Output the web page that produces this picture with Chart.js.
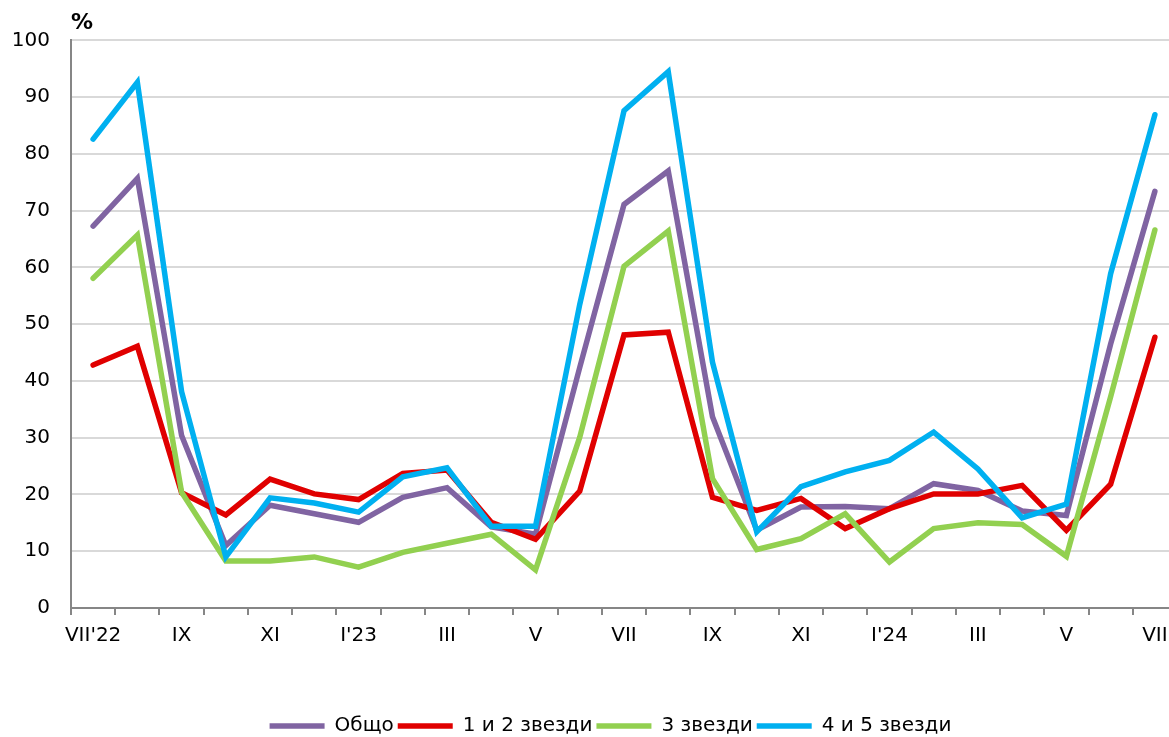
<!DOCTYPE html>
<html>
<head>
<meta charset="utf-8">
<script src="https://cdn.jsdelivr.net/npm/chart.js@4.4.1/dist/chart.umd.min.js"></script>
<style>
  html, body { margin: 0; padding: 0; background: #fff; overflow: hidden; }
  #wrap { position: relative; width: 1177px; height: 737px; }
</style>
</head>
<body>
<div id="wrap"><canvas id="c"></canvas></div>
<script>
const months = ["VII'22","VIII","IX","X","XI","XII","I'23","II","III","IV","V","VI","VII","VIII","IX","X","XI","XII","I'24","II","III","IV","V","VI","VII"];
const seriesNames = ["Общо", "1 и 2 звезди", "3 звезди", "4 и 5 звезди"];
const total = [67.3,75.7,30.4,11.0,18.1,16.6,15.1,19.5,21.2,14.3,13.0,42.4,71.1,77.0,33.7,13.7,17.8,17.9,17.5,21.9,20.7,17.1,16.3,46.5,73.4];
const stars12 = [42.8,46.1,20.3,16.4,22.7,20.1,19.1,23.7,24.3,15.1,12.1,20.6,48.1,48.6,19.5,17.2,19.3,14.0,17.5,20.1,20.1,21.6,13.7,21.8,47.7];
const stars3 = [58.1,65.7,20.4,8.3,8.3,9.0,7.2,9.8,11.4,13.0,6.7,30.1,60.2,66.4,22.8,10.3,12.2,16.6,8.1,14.0,15.0,14.7,9.1,37.2,66.6];
const stars45 = [82.6,92.6,38.1,9.0,19.4,18.5,16.9,23.1,24.7,14.4,14.4,53.5,87.6,94.5,43.3,13.4,21.4,24.0,26.0,31.0,24.5,15.9,18.3,58.9,86.9];
const yTicks = { min: 0, max: 100, step: 10 };
const unitLabel = "%";

const colors = ["#8064A2", "#E00000", "#92D050", "#00B0F0"];
const seriesData = [total, stars12, stars3, stars45];

const FONT = "'DejaVu Sans', Verdana, sans-serif";

const shiftPlugin = {
  id: 'shiftLegend',
  afterLayout(chart) {
    const lg = chart.legend;
    if (lg) {
      lg.left += 22; lg.right += 22;
      lg.top += 9; lg.bottom += 9;
    }
  }
};

new Chart(document.getElementById('c'), {
  type: 'line',
  data: {
    labels: months,
    datasets: seriesData.map((d, i) => ({
      label: seriesNames[i],
      data: d,
      borderColor: colors[i],
      backgroundColor: colors[i],
      borderWidth: 5.5,
      borderCapStyle: 'round',
      borderJoinStyle: 'miter',
      pointRadius: 0,
      pointHoverRadius: 0,
      pointStyle: 'line',
      tension: 0,
      fill: false,
      order: 4 - i
    }))
  },
  options: {
    responsive: true,
    maintainAspectRatio: false,
    animation: false,
    events: [],
    layout: { padding: 0 },
    plugins: {
      title: {
        display: true,
        text: unitLabel,
        align: 'start',
        fullSize: false,
        color: '#000',
        font: { family: FONT, size: 22, weight: 'bold' },
        padding: { top: 10, bottom: 4 }
      },
      legend: {
        position: 'bottom',
        align: 'center',
        labels: {
          usePointStyle: true,
          pointStyleWidth: 55,
          color: '#000',
          font: { family: FONT, size: 20 },
          padding: 4,
          sort: (a, b) => a.datasetIndex - b.datasetIndex
        }
      },
      tooltip: { enabled: false }
    },
    scales: {
      x: {
        offset: true,
        grid: {
          offset: true,
          drawOnChartArea: false,
          drawTicks: true,
          tickLength: 7,
          color: '#868686',
          lineWidth: 2
        },
        border: { display: true, color: '#868686', width: 2 },
        ticks: {
          autoSkip: false,
          maxRotation: 0,
          minRotation: 0,
          padding: 9,
          color: '#000',
          font: { family: FONT, size: 20 },
          callback: function(v, i) { return i % 2 === 0 ? months[i] : ''; }
        },
        afterFit: (s) => { s.height = 95; }
      },
      y: {
        min: yTicks.min,
        max: yTicks.max,
        grid: { color: '#D9D9D9', lineWidth: 2, drawTicks: false },
        border: { display: true, color: '#868686', width: 2 },
        ticks: {
          stepSize: yTicks.step,
          padding: 21,
          color: '#000',
          font: { family: FONT, size: 20 }
        },
        afterFit: (s) => { s.width = 71; }
      }
    }
  },
  plugins: [shiftPlugin]
});
</script>
</body>
</html>
